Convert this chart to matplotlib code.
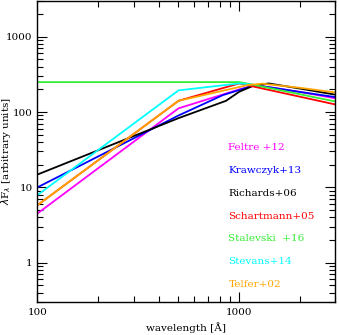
import matplotlib
matplotlib.use("Agg")
import matplotlib.pyplot as plt
from matplotlib.ticker import LogLocator, NullFormatter, FixedLocator, FixedFormatter

# data (wavelength in Angstrom, lambda F_lambda arbitrary units)
feltre_wl = [100, 500, 1000, 1200, 2000, 3000]
feltre_f = [4.5, 112, 200, 228, 185, 152]

krawczyk_wl = [100, 500, 830, 1200, 2000, 3000]
krawczyk_f = [10, 90, 168, 228, 185, 158]

richards_wl = [100, 500, 860, 1000, 1170, 1400, 2000, 3000]
richards_f = [14.8, 83, 141, 186, 223, 240, 205, 170]

schartmann_wl = [100, 500, 1000, 3000]
schartmann_f = [5.8, 141, 240, 126]

stalevski_wl = [100, 1000, 1200, 3000]
stalevski_f = [250, 250, 228, 138]

stevans_wl = [100, 500, 1000, 1150]
stevans_f = [7.9, 194, 240, 232]

telfer_wl = [100, 500, 1100, 1300, 2000, 3000]
telfer_f = [5.8, 141, 228, 238, 210, 182]

labels = ["Feltre +12", "Krawczyk+13", "Richards+06", "Schartmann+05",
          "Stalevski  +16", "Stevans+14", "Telfer+02"]
colors = ["#ff00ff", "#0000ff", "#000000", "#ff0000", "#33ee33", "#00ffff", "#ffa500"]

series = [(feltre_wl, feltre_f), (krawczyk_wl, krawczyk_f), (richards_wl, richards_f),
          (schartmann_wl, schartmann_f), (stalevski_wl, stalevski_f),
          (stevans_wl, stevans_f), (telfer_wl, telfer_f)]

plt.rcParams['font.family'] = ['DejaVu Serif']

fig = plt.figure(figsize=(3.39, 3.35), dpi=100)
ax = fig.add_axes([0.1106, 0.0985, 0.879, 0.899])

for (wl, f), c in zip(series, colors):
    ax.plot(wl, f, color=c, lw=1.3)

ax.set_xscale('log')
ax.set_yscale('log')
ax.set_xlim(100, 3000)
ax.set_ylim(0.3, 3000)

ax.xaxis.set_major_locator(FixedLocator([100, 1000]))
ax.xaxis.set_major_formatter(FixedFormatter(["100", "1000"]))
ax.xaxis.set_minor_locator(LogLocator(base=10, subs=range(2, 10)))
ax.xaxis.set_minor_formatter(NullFormatter())
ax.yaxis.set_major_locator(FixedLocator([1, 10, 100, 1000]))
ax.yaxis.set_major_formatter(FixedFormatter(["1", "10", "100", "1000"]))
ax.yaxis.set_minor_locator(LogLocator(base=10, subs=range(2, 10)))
ax.yaxis.set_minor_formatter(NullFormatter())

ax.tick_params(which='both', direction='in', top=True, right=True, labelsize=7.5)
ax.tick_params(which='major', length=7, width=0.8)
ax.tick_params(which='minor', length=4, width=0.8)
ax.tick_params(axis='x', pad=4)

for s in ax.spines.values():
    s.set_linewidth(1.0)

ax.set_xlabel("wavelength [Å]", fontsize=7.5)
ax.set_ylabel(r"$\lambda$F$_\lambda$ [arbitrary units]", fontsize=7.5)
ax.xaxis.set_label_coords(0.5, -0.086)
ax.yaxis.set_label_coords(-0.107, 0.5)
ax.xaxis.label.set_va('center')
ax.yaxis.label.set_va('center')

for i, (lab, c) in enumerate(zip(labels, colors)):
    ax.text(0.641, 0.512 - i * 0.0755, lab, color=c, fontsize=7.5,
            transform=ax.transAxes, va='center', ha='left')

fig.savefig("out.png", dpi=100)
